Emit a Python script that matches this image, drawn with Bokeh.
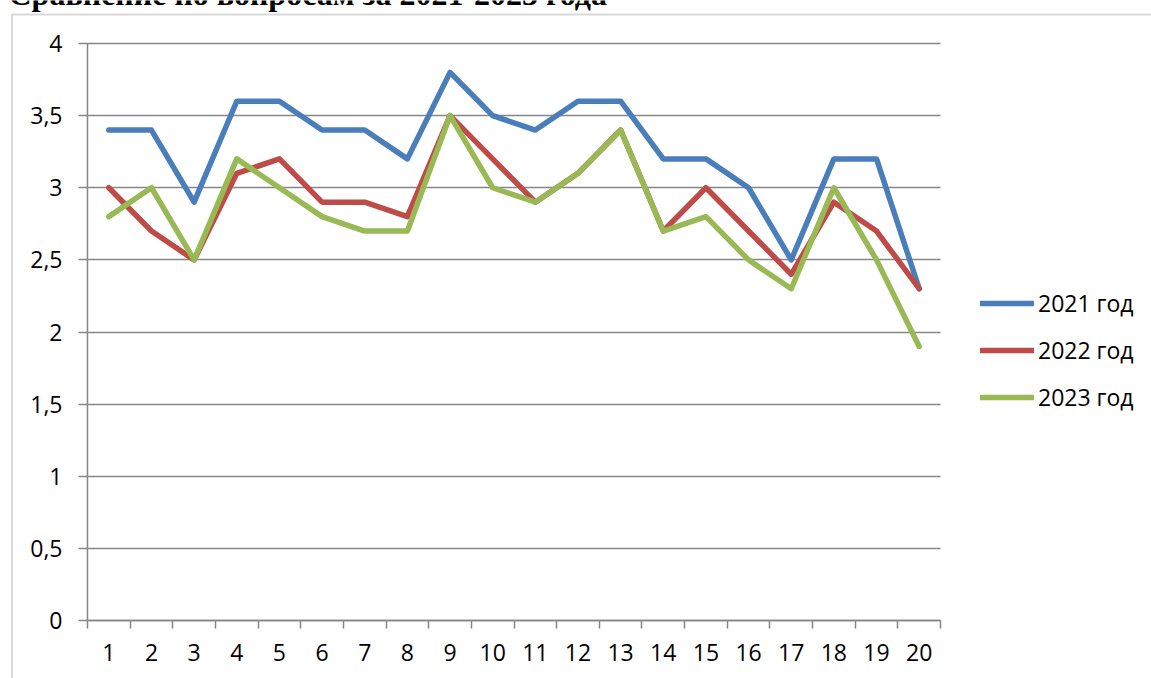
from bokeh.plotting import figure
from bokeh.models import (Range1d, FixedTicker, Legend, LegendItem, Label,
                          BoxAnnotation)
from bokeh.embed import file_html
from bokeh.resources import INLINE

# ---- data -------------------------------------------------------------
questions = list(range(1, 21))
y2021 = [3.4, 3.4, 2.9, 3.6, 3.6, 3.4, 3.4, 3.2, 3.8, 3.5, 3.4, 3.6, 3.6, 3.2, 3.2, 3.0, 2.5, 3.2, 3.2, 2.3]
y2022 = [3.0, 2.7, 2.5, 3.1, 3.2, 2.9, 2.9, 2.8, 3.5, 3.2, 2.9, 3.1, 3.4, 2.7, 3.0, 2.7, 2.4, 2.9, 2.7, 2.3]
y2023 = [2.8, 3.0, 2.5, 3.2, 3.0, 2.8, 2.7, 2.7, 3.5, 3.0, 2.9, 3.1, 3.4, 2.7, 2.8, 2.5, 2.3, 3.0, 2.5, 1.9]
series_names = ["2021 год", "2022 год", "2023 год"]
series_colors = ["#4A7EBB", "#BE4B48", "#98B954"]
y_ticks = [0, 0.5, 1, 1.5, 2, 2.5, 3, 3.5, 4]
y_tick_labels = ["0", "0,5", "1", "1,5", "2", "2,5", "3", "3,5", "4"]
title_text = "Сравнение по вопросам за 2021-2023 года"

# ---- layout (pixels) --------------------------------------------------
W, H = 1151, 678
PLOT_L, PLOT_R, PLOT_T, PLOT_B = 87, 940, 43, 620
X_LO, X_HI, Y_LO, Y_HI = 0.5, 20.5, 0.0, 4.0
KX = (PLOT_R - PLOT_L) / (X_HI - X_LO)
KY = (PLOT_B - PLOT_T) / (Y_HI - Y_LO)


def px_x(px):
    return X_LO + (px - PLOT_L) / KX


def px_y(py):
    return Y_LO + (PLOT_B - py) / KY


GRAY = "#868686"
FONT = "Open Sans"
FS = "23px"

p = figure(width=W, height=H, output_backend="svg", toolbar_location=None,
           x_range=Range1d(px_x(0), px_x(W)), y_range=Range1d(px_y(H), px_y(0)),
           min_border=0)
p.min_border_left = 0
p.min_border_right = 0
p.min_border_top = 0
p.min_border_bottom = 0
p.outline_line_color = None
p.background_fill_color = "white"
p.border_fill_color = "white"
p.xgrid.visible = False
p.ygrid.visible = False

# x axis (category slots, tick marks between categories)
xa = p.xaxis[0]
xa.fixed_location = Y_LO
xa.bounds = (X_LO, X_HI)
xa.ticker = FixedTicker(ticks=questions,
                        minor_ticks=[q - 0.5 for q in questions] + [questions[-1] + 0.5])
xa.major_tick_line_color = None
xa.minor_tick_line_color = GRAY
xa.minor_tick_line_width = 1.5
xa.minor_tick_in = 0
xa.minor_tick_out = 8
xa.axis_line_color = GRAY
xa.axis_line_width = 1.5
xa.major_label_text_font = FONT
xa.major_label_text_font_size = FS
xa.major_label_text_color = "black"
xa.major_label_standoff = 15

# y axis; its inward ticks form the horizontal grid lines
ya = p.yaxis[0]
ya.fixed_location = X_LO
ya.bounds = (Y_LO, Y_HI)
ya.level = "underlay"
ya.ticker = FixedTicker(ticks=y_ticks, minor_ticks=[])
ya.major_label_overrides = {t: l for t, l in zip(y_ticks, y_tick_labels)}
ya.major_tick_line_color = GRAY
ya.major_tick_line_width = 1.5
ya.major_tick_in = PLOT_R - PLOT_L
ya.major_tick_out = 9
ya.minor_tick_line_color = None
ya.axis_line_color = GRAY
ya.axis_line_width = 1.5
ya.major_label_text_font = FONT
ya.major_label_text_font_size = FS
ya.major_label_text_color = "black"
ya.major_label_standoff = 16

renderers = []
for ys, c in zip([y2021, y2022, y2023], series_colors):
    r = p.line(questions, ys, line_color=c, line_width=5.5,
               line_join="round", line_cap="round")
    renderers.append(r)

legend = Legend(items=[LegendItem(label=n, renderers=[r])
                       for n, r in zip(series_names, renderers)],
                location=(980, H - 413), orientation="vertical")
legend.label_text_font = FONT
legend.label_text_font_size = FS
legend.label_text_color = "black"
legend.glyph_width = 54
legend.glyph_height = 32
legend.label_height = 32
legend.label_standoff = 4
legend.spacing = 15
legend.padding = 0
legend.margin = 0
legend.border_line_color = None
legend.background_fill_alpha = 0
p.add_layout(legend, "center")

# outer chart border (only top and left edges are visible)
border = BoxAnnotation(left=px_x(11.5), right=px_x(W + 50), top=px_y(14),
                       bottom=px_y(H + 50), fill_alpha=0, line_color="#808080",
                       line_width=2, level="underlay")
p.add_layout(border)

# title, cut off at the top of the page
title = Label(x=px_x(8), y=px_y(-7), text=title_text,
              text_font="Liberation Serif", text_font_style="bold",
              text_font_size="32px", text_color="black",
              text_baseline="alphabetic", text_align="left")
p.add_layout(title)

open("out.html", "w").write(file_html(p, INLINE))
